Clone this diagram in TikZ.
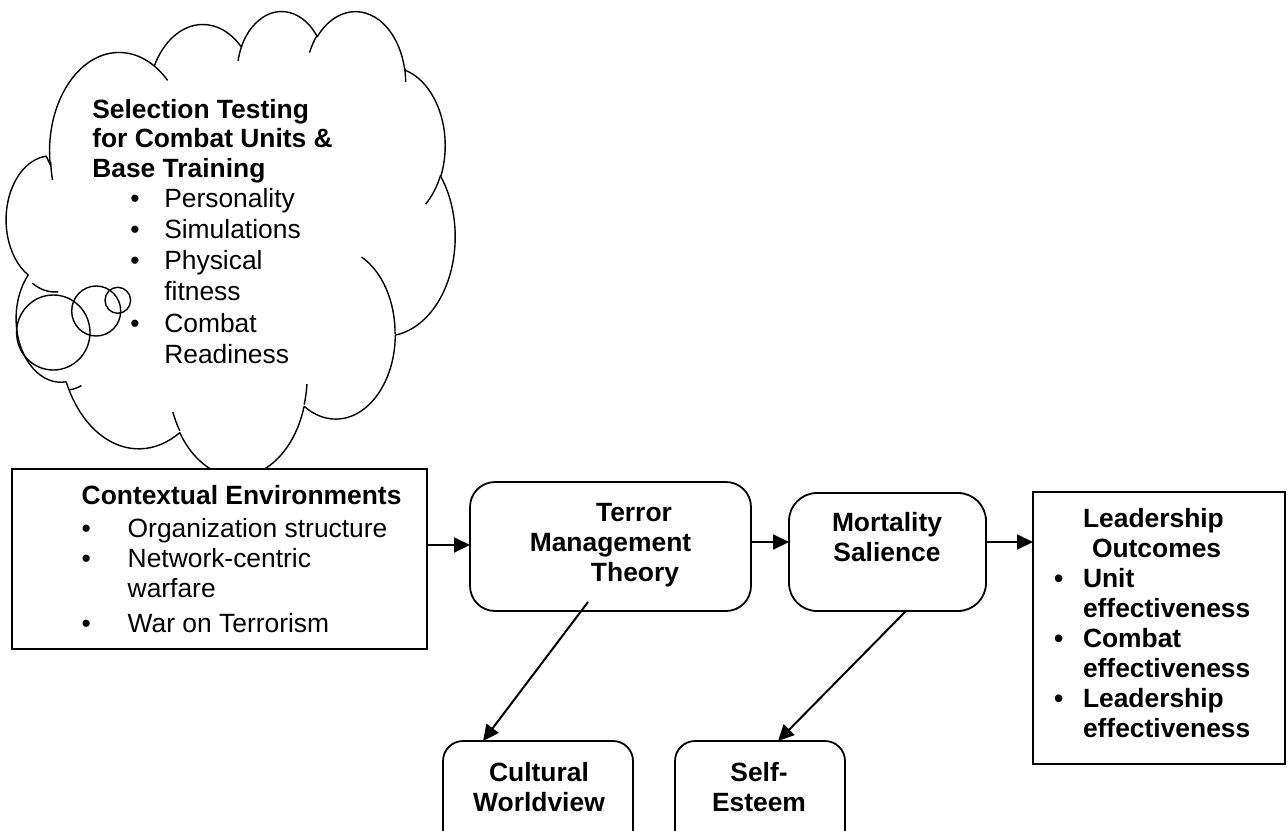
\documentclass[tikz,border=0pt]{standalone}
\usepackage{fontspec}
\setmainfont{Liberation Sans}
\usetikzlibrary{arrows.meta}
\makeatletter
\newcommand\cprep[5]{%
  \pgfmathsetmacro\cp@s{-atan2((#2)*sin(#4),(#3)*cos(#4))}%
  \pgfmathsetmacro\cp@e{-atan2((#2)*sin((#4)+(#5)),(#3)*cos((#4)+(#5)))}%
  \pgfmathsetmacro\cp@d{-mod(\cp@s-(\cp@e)+720,360)}%
  \pgfmathsetmacro\cp@x{(#2)*1.0301}%
  \pgfmathsetmacro\cp@y{(#3)*1.0764}%
  \expandafter\xdef\csname cS#1\endcsname{\cp@s}%
  \expandafter\xdef\csname cD#1\endcsname{\cp@d}%
  \expandafter\xdef\csname cX#1\endcsname{\cp@x pt}%
  \expandafter\xdef\csname cY#1\endcsname{\cp@y pt}%
}
\makeatother
\cprep{A}{67.53}{91.90}{-190.4875}{123.7805}
\cprep{B}{53.33}{72.67}{-144.1024}{89.9452}
\cprep{C}{43.65}{59.45}{-145.8079}{99.7230}
\cprep{D}{48.57}{65.95}{-130.9861}{117.2417}
\cprep{E}{53.33}{72.73}{-78.7089}{109.0269}
\cprep{F}{67.75}{92.20}{-46.2673}{130.2690}
\cprep{G}{57.85}{78.67}{0.6250}{114.0333}
\cprep{H}{67.52}{92.15}{22.4516}{115.1726}
\cprep{I}{77.20}{105.43}{66.2426}{82.2707}
\cprep{J}{43.60}{59.18}{-274.9421}{146.7356}
\cprep{K}{43.45}{59.45}{-246.8285}{152.5189}
\cprep{a}{43.45}{59.45}{86.7420}{26.4295}
\cprep{b}{43.60}{59.18}{73.6105}{11.4475}
\cprep{c}{67.52}{92.15}{137.6242}{14.0811}
\cprep{d}{67.52}{92.15}{6.4533}{15.9984}
\cprep{e}{57.85}{78.67}{-70.2924}{70.9174}
\cprep{f}{53.33}{72.73}{30.3180}{27.7515}
\cprep{g}{48.57}{65.95}{-13.7443}{14.8589}
\cprep{h}{48.57}{65.95}{-149.1815}{18.1954}
\cprep{i}{43.65}{59.45}{-163.4943}{17.6864}
\cprep{j}{67.53}{91.90}{-66.7070}{12.3194}
\cprep{k}{67.53}{91.90}{162.0422}{14.0811}
\newcommand\dfont{\fontsize{26.4pt}{30pt}\selectfont}
\newcommand\bul{•}
\begin{document}
\begin{tikzpicture}[x=1pt,y=-1pt,font=\dfont,
  box/.style={draw,line width=1.8pt,fill=white,inner sep=0pt,outer sep=0pt},
  rbox/.style={box,rounded corners=#1},
  arr/.style={line width=2pt,-{Triangle[length=16pt,width=15pt]}},
  txt/.style={inner sep=0pt,outer sep=0pt},
  cloudline/.style={line width=1.4pt,line join=round}]
\useasboundingbox (0,0) rectangle (1287,830);
\fill[white] (0,0) rectangle (1287,830);
\clip (0,0) rectangle (1287,830);
% cloud
\begin{scope}[shift={(10,10)},x=1.0301pt,y=-1.0764pt]
\draw[cloudline,fill=white] (39.00,143.70)
  arc[x radius=\cXA,y radius=\cYA,start angle=\cSA,delta angle=\cDA]
  arc[x radius=\cXB,y radius=\cYB,start angle=\cSB,delta angle=\cDB]
  arc[x radius=\cXC,y radius=\cYC,start angle=\cSC,delta angle=\cDC]
  arc[x radius=\cXD,y radius=\cYD,start angle=\cSD,delta angle=\cDD]
  arc[x radius=\cXE,y radius=\cYE,start angle=\cSE,delta angle=\cDE]
  arc[x radius=\cXF,y radius=\cYF,start angle=\cSF,delta angle=\cDF]
  arc[x radius=\cXG,y radius=\cYG,start angle=\cSG,delta angle=\cDG]
  arc[x radius=\cXH,y radius=\cYH,start angle=\cSH,delta angle=\cDH]
  arc[x radius=\cXI,y radius=\cYI,start angle=\cSI,delta angle=\cDI]
  arc[x radius=\cXJ,y radius=\cYJ,start angle=\cSJ,delta angle=\cDJ]
  arc[x radius=\cXK,y radius=\cYK,start angle=\cSK,delta angle=\cDK]
  -- cycle;
\draw[cloudline]
  (46.93,261.77) arc[x radius=\cXa,y radius=\cYa,start angle=\cSa,delta angle=\cDa]
  (69.28,348.99) arc[x radius=\cXb,y radius=\cYb,start angle=\cSb,delta angle=\cDb]
  (164.78,390.90) arc[x radius=\cXc,y radius=\cYc,start angle=\cSc,delta angle=\cDc]
  (288.27,347.51) arc[x radius=\cXd,y radius=\cYd,start angle=\cSd,delta angle=\cDd]
  (341.29,229.54) arc[x radius=\cXe,y radius=\cYe,start angle=\cSe,delta angle=\cDe]
  (417.98,153.54) arc[x radius=\cXf,y radius=\cYf,start angle=\cSf,delta angle=\cDf]
  (383.24,54.26) arc[x radius=\cXg,y radius=\cYg,start angle=\cSg,delta angle=\cDg]
  (290.78,39.52) arc[x radius=\cXh,y radius=\cYh,start angle=\cSh,delta angle=\cDh]
  (221.41,47.20) arc[x radius=\cXi,y radius=\cYi,start angle=\cSi,delta angle=\cDi]
  (140.00,51.92) arc[x radius=\cXj,y radius=\cYj,start angle=\cSj,delta angle=\cDj]
  (41.27,157.89) arc[x radius=\cXk,y radius=\cYk,start angle=\cSk,delta angle=\cDk];
\end{scope}
% thought bubbles
\draw[cloudline] (53.3,332.5) ellipse [x radius=36.7pt,y radius=37.5pt];
\draw[cloudline] (96.2,311) ellipse [x radius=24.5pt,y radius=25pt];
\draw[cloudline] (117.8,300.3) ellipse [x radius=12.8pt,y radius=13pt];
% cloud text
\node[txt,anchor=base west] (cloudtxt) at (92.3,118) {\begin{minipage}[t]{300pt}\fontsize{26.4pt}{29.5pt}\selectfont\raggedright
\textbf{Selection Testing}\\
\textbf{for Combat Units \&}\\
\textbf{Base Training}\\[0.5pt]
\hspace*{38pt}\makebox[34pt][l]{\bul}Personality\\[1.8pt]
\hspace*{38pt}\makebox[34pt][l]{\bul}Simulations\\[1.8pt]
\hspace*{38pt}\makebox[34pt][l]{\bul}Physical\\[1.8pt]
\hspace*{72pt}fitness\\[1.8pt]
\hspace*{38pt}\makebox[34pt][l]{\bul}Combat\\[1.8pt]
\hspace*{72pt}Readiness
\end{minipage}};
% boxes
\node[box,minimum width=415pt,minimum height=180pt] (ctx) at (219.5,559) {};
\node[rbox=25pt,minimum width=281pt,minimum height=129pt] (tmt) at (610.5,546.5) {};
\node[rbox=28pt,minimum width=197pt,minimum height=118pt] (ms) at (887.5,552) {};
\node[box,minimum width=252pt,minimum height=272pt] (lo) at (1159,628) {};
\node[rbox=20pt,minimum width=190pt,minimum height=119pt] (cw) at (538,800.5) {};
\node[rbox=20pt,minimum width=170pt,minimum height=119pt] (se) at (760,800.5) {};
% box texts
\node[txt,anchor=base west] (ctxtxt) at (81.7,504.3) {\begin{minipage}[t]{340pt}\raggedright
\textbf{Contextual Environments}\\[3pt]
\hspace*{0pt}\makebox[46pt][l]{\bul}Organization structure\\
\hspace*{0pt}\makebox[46pt][l]{\bul}Network-centric\\
\hspace*{46pt}warfare\\[5pt]
\hspace*{0pt}\makebox[46pt][l]{\bul}War on Terrorism
\end{minipage}};
\node[txt,anchor=base] (tmttxt) at (610.5,521.7) {\begin{minipage}[t]{260pt}\centering\bfseries
\hspace*{47pt}Terror\\
Management\\
\hspace*{49pt}Theory
\end{minipage}};
\node[txt,anchor=base] (mstxt) at (887,531.7) {\begin{minipage}[t]{190pt}\centering\bfseries
Mortality\\
Salience
\end{minipage}};
\node[txt,anchor=base west] (lotxt) at (1083,527.7) {\begin{minipage}[t]{200pt}\raggedright\bfseries
Leadership\\
\hspace*{9pt}Outcomes\\
\hspace*{-29pt}\makebox[29pt][l]{\bul}Unit\\
effectiveness\\
\hspace*{-29pt}\makebox[29pt][l]{\bul}Combat\\
effectiveness\\
\hspace*{-29pt}\makebox[29pt][l]{\bul}Leadership\\
effectiveness
\end{minipage}};
\node[txt,anchor=base] (cwtxt) at (539,781.7) {\begin{minipage}[t]{180pt}\centering\bfseries
Cultural\\
Worldview
\end{minipage}};
\node[txt,anchor=base] (setxt) at (759,781.7) {\begin{minipage}[t]{160pt}\centering\bfseries
Self-\\
Esteem
\end{minipage}};
% connectors
\coordinate (y1) at (0,545);
\coordinate (y2) at (0,542);
\coordinate (tmtA) at (588,602);
\coordinate (cwX) at (483,0);
\coordinate (msX) at (906,0);
\coordinate (seX) at (778,0);
\draw[arr] (ctx.east |- y1) -- (tmt.west |- y1);
\draw[arr] (tmt.east |- y2) -- (ms.west |- y2);
\draw[arr] (ms.east |- y2) -- (lo.west |- y2);
\draw[arr] (tmtA) -- (cwX |- cw.north);
\draw[arr] (msX |- ms.south) -- (seX |- se.north);
\end{tikzpicture}
\end{document}
